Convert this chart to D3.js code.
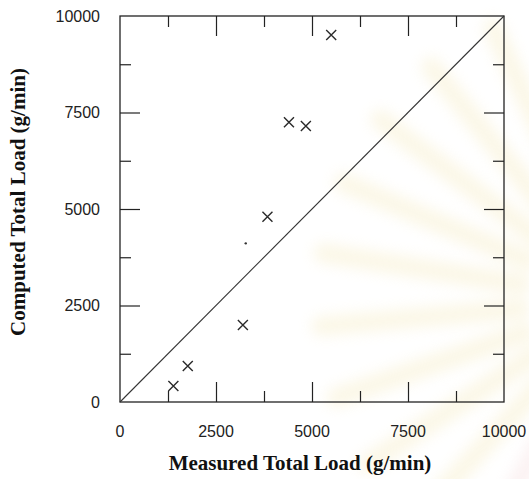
<!DOCTYPE html>
<html>
<head>
<meta charset="utf-8">
<script src="https://cdn.jsdelivr.net/npm/d3@7"></script>
<style>
  body { margin: 0; background: #fff; }
  svg { display: block; }
</style>
</head>
<body>
<div id="chart"></div>
<script>
// measured vs computed total load, g/min
const measured = [1390, 1765, 3200, 3840, 4400, 4840, 5500];
const computed = [415, 930, 1995, 4800, 7250, 7150, 9510];
// the single small dot
const dotPoint = [3275, 4110];
const majorTicks = [0, 2500, 5000, 7500, 10000];
const minorTicks = [1250, 3750, 6250, 8750];

const W = 529, H = 479;
const margin = { top: 16, right: 25, bottom: 77, left: 120 },
  width = W - margin.left - margin.right,
  height = H - margin.top - margin.bottom;

const svg = d3
  .select("#chart")
  .append("svg")
  .attr("width", W)
  .attr("height", H);

// faint watermark rays in the background
const defs = svg.append("defs");
defs.append("filter")
  .attr("id", "blur")
  .attr("x", "-50%").attr("y", "-50%").attr("width", "200%").attr("height", "200%")
  .append("feGaussianBlur")
  .attr("stdDeviation", 7);

const rays = svg.append("g").attr("filter", "url(#blur)").attr("opacity", 0.4);
const cx = 620, cy = 300;
d3.range(-75, 80, 14).forEach((a) => {
  const r = (a * Math.PI) / 180;
  rays
    .append("line")
    .attr("x1", cx - Math.cos(r) * 100)
    .attr("y1", cy - Math.sin(r) * 100)
    .attr("x2", cx - Math.cos(r) * 300)
    .attr("y2", cy - Math.sin(r) * 300)
    .style("stroke", a < -55 ? "#f6dfe0" : "#f6ecc4")
    .style("stroke-width", 20)
    .style("stroke-linecap", "round");
});

const g = svg.append("g").attr("transform", `translate(${margin.left}, ${margin.top})`);

const x = d3.scaleLinear().domain([0, 10000]).range([0, width]);
const y = d3.scaleLinear().domain([0, 10000]).range([height, 0]);

const ink = "#222";

// frame
g.append("rect")
  .attr("width", width)
  .attr("height", height)
  .style("fill", "none")
  .style("stroke", ink)
  .style("stroke-width", 1.3);

// inward ticks on all four sides
function ticks(axisFn, vals, size, transform) {
  g.append("g")
    .attr("transform", transform)
    .call(axisFn.tickValues(vals).tickSize(size).tickFormat(""))
    .call((s) => s.select(".domain").remove())
    .selectAll("line")
    .style("stroke", ink)
    .style("stroke-width", 1.2);
}
const inner = majorTicks.slice(1, -1);
ticks(d3.axisTop(x), inner, 20, `translate(0, ${height})`);
ticks(d3.axisTop(x), minorTicks, 11, `translate(0, ${height})`);
ticks(d3.axisBottom(x), inner, 20, "translate(0, 0)");
ticks(d3.axisBottom(x), minorTicks, 11, "translate(0, 0)");
ticks(d3.axisRight(y), inner, 20, "translate(0, 0)");
ticks(d3.axisRight(y), minorTicks, 11, "translate(0, 0)");
ticks(d3.axisLeft(y), inner, 20, `translate(${width}, 0)`);
ticks(d3.axisLeft(y), minorTicks, 11, `translate(${width}, 0)`);

// tick labels
const labelFont = "'Liberation Sans', Arial, sans-serif";
g.append("g")
  .selectAll("text")
  .data(majorTicks)
  .join("text")
  .attr("x", (d) => x(d))
  .attr("y", height + 35)
  .attr("text-anchor", "middle")
  .style("font-family", labelFont)
  .style("font-size", "16px")
  .style("fill", ink)
  .text((d) => d);

g.append("g")
  .selectAll("text")
  .data(majorTicks)
  .join("text")
  .attr("x", -20)
  .attr("y", (d) => y(d) + 5.5)
  .attr("text-anchor", "end")
  .style("font-family", labelFont)
  .style("font-size", "16px")
  .style("fill", ink)
  .text((d) => d);

// 1:1 line
g.append("line")
  .attr("x1", x(0))
  .attr("y1", y(0))
  .attr("x2", x(10000))
  .attr("y2", y(10000))
  .style("stroke", "#333")
  .style("stroke-width", 1.1);

// x markers
const pts = measured.map((m, i) => ({ m: m, c: computed[i] }));
const s = 5;
g.append("g")
  .selectAll("path")
  .data(pts)
  .join("path")
  .attr("d", (d) => {
    const px = x(d.m), py = y(d.c);
    return `M${px - s},${py - s}L${px + s},${py + s}M${px - s},${py + s}L${px + s},${py - s}`;
  })
  .style("stroke", "#2a2a2a")
  .style("stroke-width", 1.4)
  .style("fill", "none");

g.append("circle")
  .attr("cx", x(dotPoint[0]))
  .attr("cy", y(dotPoint[1]))
  .attr("r", 1.2)
  .style("fill", "#333");

// axis titles
const titleFont = "'Liberation Serif', 'Times New Roman', serif";
svg.append("text")
  .attr("x", 300)
  .attr("y", 470)
  .attr("text-anchor", "middle")
  .style("font-family", titleFont)
  .style("font-weight", "bold")
  .style("font-size", "21px")
  .style("fill", "#111")
  .text("Measured Total Load (g/min)");

svg.append("text")
  .attr("transform", "translate(25, 202) rotate(-90)")
  .attr("text-anchor", "middle")
  .style("font-family", titleFont)
  .style("font-weight", "bold")
  .style("font-size", "21px")
  .style("fill", "#111")
  .text("Computed Total Load (g/min)");
</script>
</body>
</html>
